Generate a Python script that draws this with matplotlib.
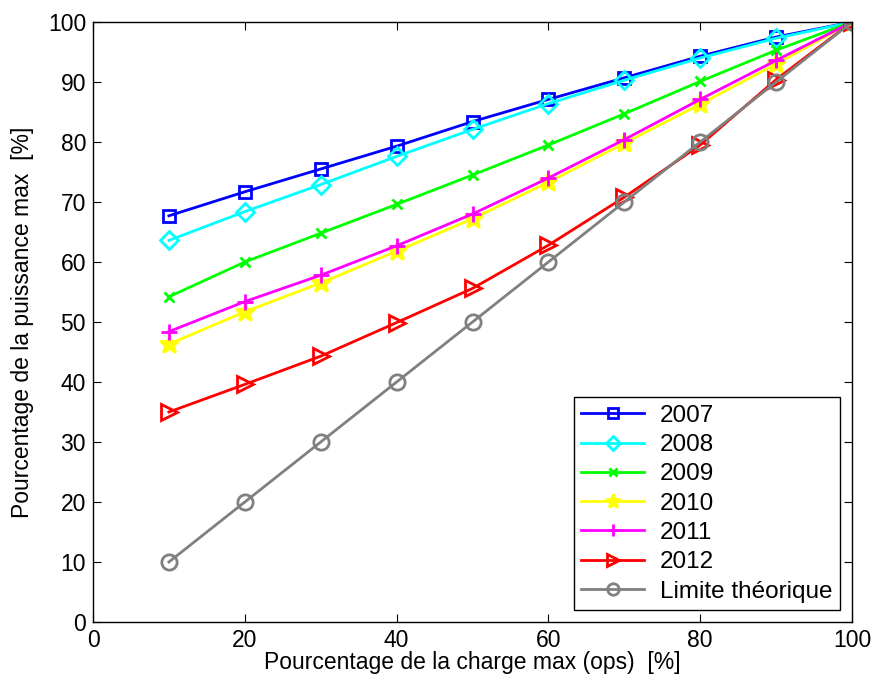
import matplotlib
matplotlib.use("Agg")
import matplotlib.pyplot as plt

plt.rcParams['font.family'] = ['Liberation Sans', 'DejaVu Sans']

x = [10, 20, 30, 40, 50, 60, 70, 80, 90, 100]
s2007 = [67.7, 71.7, 75.5, 79.3, 83.4, 87.1, 90.7, 94.3, 97.5, 100]
s2008 = [63.6, 68.4, 72.9, 77.6, 82.1, 86.4, 90.3, 94.0, 97.3, 100]
s2009 = [54.2, 60.0, 64.8, 69.6, 74.5, 79.5, 84.7, 90.1, 95.3, 100]
s2010 = [46.3, 51.7, 56.5, 61.8, 67.2, 73.3, 79.8, 86.3, 93.0, 100]
s2011 = [48.4, 53.4, 57.8, 62.7, 68.0, 74.0, 80.4, 87.1, 93.6, 100]
s2012 = [35.0, 39.6, 44.3, 49.9, 55.6, 62.8, 70.8, 79.5, 90.4, 100]
limite = [10, 20, 30, 40, 50, 60, 70, 80, 90, 100]

labels = ['2007', '2008', '2009', '2010', '2011', '2012', 'Limite théorique']
series = [s2007, s2008, s2009, s2010, s2011, s2012, limite]
colors = ['#0000ff', '#00ffff', '#00ff00', '#ffff00', '#ff00ff', '#ff0000', '#808080']
markers = ['s', 'D', 'x', '*', '+', '>', 'o']
msizes = [9, 9, 7, 14, 12, 11, 11]

fig = plt.figure(figsize=(8.76, 6.88), dpi=100)
ax = fig.add_axes([93/876, 1 - 622/688, (852-93)/876, (622-22)/688])

for s, lab, c, m, ms in zip(series, labels, colors, markers, msizes):
    kw = dict(markerfacecolor='none') if m in ('s', 'D', '>', 'o') else {}
    ax.plot(x, s, color=c, marker=m, markersize=ms, linewidth=2,
            markeredgewidth=2, label=lab, **kw)

ax.set_xlim(0, 100)
ax.set_ylim(0, 100)
ax.set_xticks(range(0, 101, 20))
ax.set_yticks(range(0, 101, 10))
ax.tick_params(direction='in', length=6, labelsize=16.5, top=True, right=True, pad=5)
for sp in ax.spines.values():
    sp.set_linewidth(1)
ax.set_xlabel('Pourcentage de la charge max (ops)  [%]', fontsize=16.5, labelpad=-1)
ax.set_ylabel('Pourcentage de la puissance max  [%]', fontsize=16.5, labelpad=10)

leg = ax.legend(loc='lower right', fontsize=17.5, fancybox=False, edgecolor='black',
                framealpha=1, handlelength=2.6, borderaxespad=0.5,
                labelspacing=0.3, borderpad=0.3, markerscale=0.75, handletextpad=0.65)
leg.get_frame().set_linewidth(1)

fig.savefig('out.png', dpi=100)
